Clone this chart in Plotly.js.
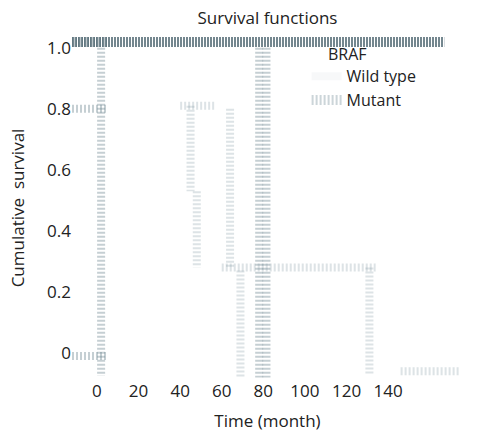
<!DOCTYPE html>
<html>
<head>
<meta charset="utf-8">
<script src="https://cdn.plot.ly/plotly-3.0.1.min.js"></script>
<style>html,body{margin:0;padding:0;background:#fff;}#chart{width:483px;height:432px;}</style>
</head>
<body>
<div id="chart"></div>
<script>
// Tick labels
const xTicks = [0, 20, 40, 60, 80, 100, 120, 140];
const yTicks = [0, 0.2, 0.4, 0.6, 0.8, 1.0];
const yTickText = ["0", "0.2", "0.4", "0.6", "0.8", "1.0"];

// Wild type survival (flat band near 1.0)
const wildX = [-12, 167];
const wildY = [1.02, 1.02];
// Darker overlap at the very start
const wildStartX = [-12, 5];
const wildStartY = [1.02, 1.02];

// Mutant survival – dark segments
const mutDarkX = [2, 2, null, -12, 5, null, -12, 5, null, 78, 78, null, 81.5, 81.5];
const mutDarkY = [1.0, -0.075, null, 0.8, 0.8, null, -0.01, -0.01, null, 1.0, -0.08, null, 1.0, -0.08];

// Mutant survival – faint segments
const mutFaintX = [40, 57, null, 45, 45, null, 48, 48, null, 64, 64, null, 69, 69, null, 60, 134, null, 131, 131, null, 146, 174];
const mutFaintY = [0.81, 0.81, null, 0.81, 0.53, null, 0.53, 0.28, null, 0.8, 0.28, null, 0.27, -0.08, null, 0.28, 0.28, null, 0.28, -0.07, null, -0.06, -0.06];

const traces = [
  {x: wildX, y: wildY, mode: 'lines', showlegend: false, hoverinfo: 'skip',
   line: {color: 'rgba(70,95,105,0.75)', width: 11, dash: '2px,1px'}},
  {x: wildStartX, y: wildStartY, mode: 'lines', showlegend: false, hoverinfo: 'skip',
   line: {color: 'rgba(70,95,105,0.35)', width: 11, dash: '1px,1px'}},
  {x: mutDarkX, y: mutDarkY, mode: 'lines', showlegend: false, hoverinfo: 'skip',
   line: {color: 'rgba(110,135,145,0.4)', width: 8, dash: '2px,2px'}},
  {x: mutFaintX, y: mutFaintY, mode: 'lines', showlegend: false, hoverinfo: 'skip',
   line: {color: 'rgba(120,145,155,0.25)', width: 8, dash: '2px,2px'}},
  // legend entries
  {x: [null], y: [null], mode: 'lines', name: 'Wild type', showlegend: true,
   line: {color: 'rgba(200,210,215,0.15)', width: 8}},
  {x: [null], y: [null], mode: 'lines', name: 'Mutant', showlegend: true,
   line: {color: 'rgba(110,135,145,0.35)', width: 10, dash: '2px,2px'}}
];

const fam = 'Open Sans, Noto Sans, sans-serif';
const font = {family: fam, size: 17, color: '#222'};
const legFont = {family: fam, size: 16, color: '#222'};

const layout = {
  width: 483, height: 432,
  margin: {l: 72, r: 20, t: 37, b: 53},
  paper_bgcolor: '#fff', plot_bgcolor: '#fff',
  font: font,
  title: {text: 'Survival functions', xref: 'paper', x: 0.5, xanchor: 'center', y: 0.972, yanchor: 'top', font: font},
  xaxis: {range: [-12, 176], tickvals: xTicks, showgrid: false, zeroline: false, showline: false, ticks: '',
          title: {text: 'Time (month)', font: font, standoff: 17}, tickfont: font},
  yaxis: {range: [-0.085, 1.035], tickvals: yTicks, ticktext: yTickText, showgrid: false, zeroline: false, showline: false, ticks: '',
          title: {text: 'Cumulative  survival', font: font, standoff: 18}, tickfont: font},
  legend: {x: 0.6, y: 0.935, xanchor: 'left', yanchor: 'top', bgcolor: 'rgba(0,0,0,0)',
           font: legFont, tracegroupgap: 0, itemwidth: 30},
  annotations: [{text: 'BRAF', xref: 'paper', yref: 'paper', x: 0.705, y: 0.95, xanchor: 'center', yanchor: 'middle',
                 showarrow: false, font: legFont}]
};

Plotly.newPlot('chart', traces, layout, {displayModeBar: false, staticPlot: true});
</script>
</body>
</html>
